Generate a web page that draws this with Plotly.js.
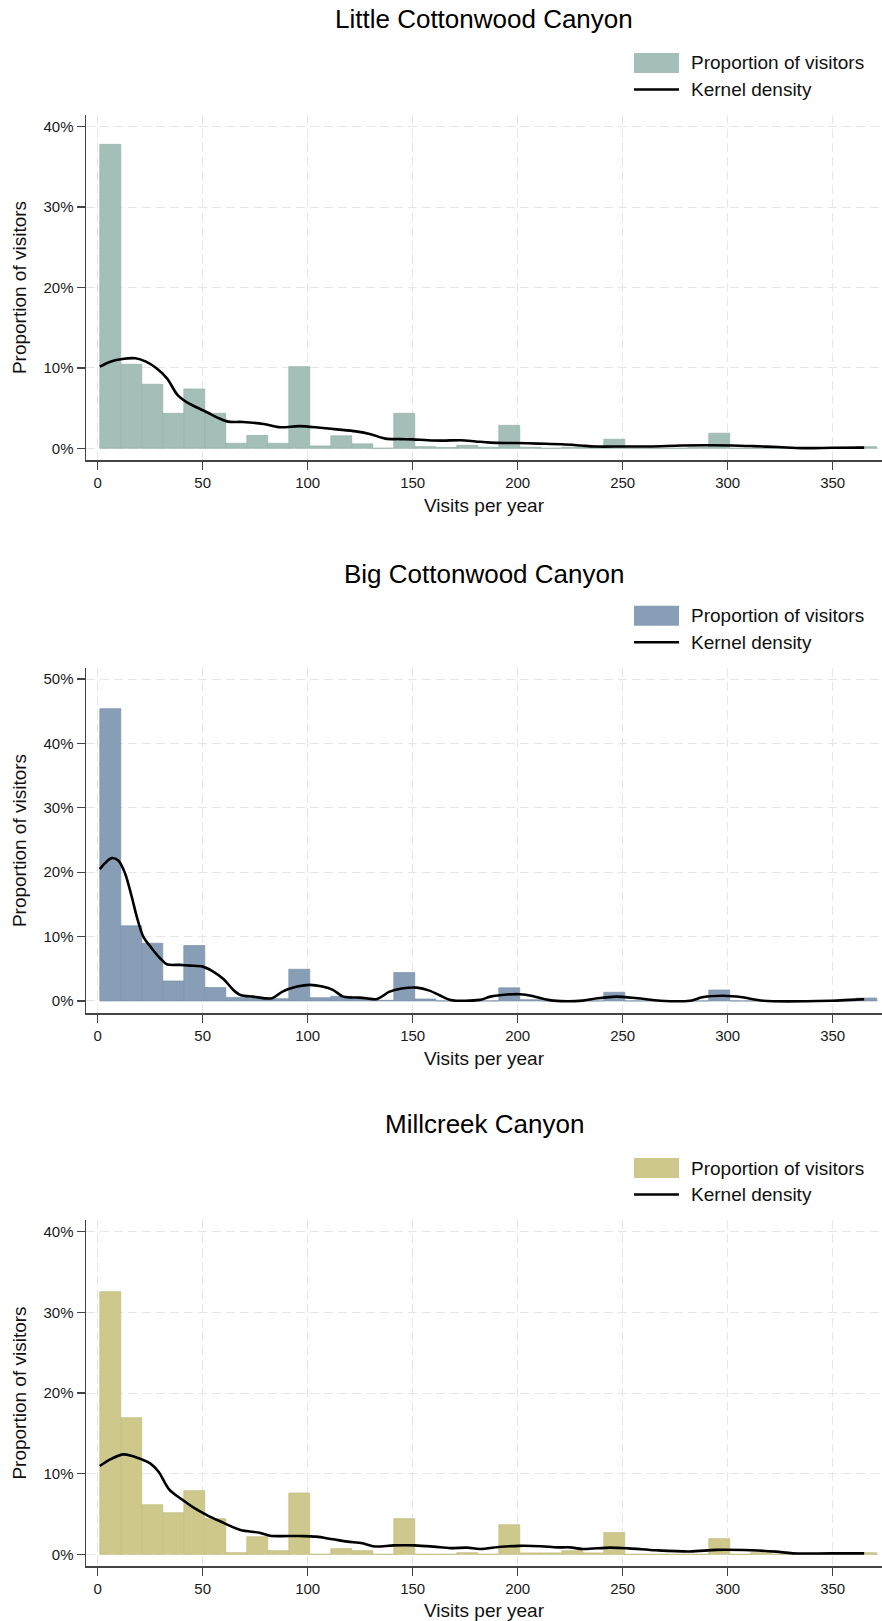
<!DOCTYPE html>
<html>
<head>
<meta charset="utf-8">
<script src="https://cdn.plot.ly/plotly-3.0.1.min.js"></script>
<style>html,body{margin:0;padding:0;background:#fff;}#chart{width:882px;height:1621px;}</style>
</head>
<body>
<div id="chart"></div>
<script>
// ---- Data ----
const titles = ['Little Cottonwood Canyon', 'Big Cottonwood Canyon', 'Millcreek Canyon'];
const legendLabels = ['Proportion of visitors', 'Kernel density'];
const xTitle = 'Visits per year';
const yTitle = 'Proportion of visitors';

// histogram bin centres (bins of 10 visits, 1-11, 11-21, ...)
const binCenters = [6,16,26,36,46,56,66,76,86,96,106,116,126,136,146,156,166,176,186,196,
  206,216,226,236,246,256,266,276,286,296,306,316,326,336,346,356,366];

// proportion of visitors (%) per bin
const lccShare = [37.8,10.45,7.96,4.35,7.37,4.35,0.62,1.6,0.62,10.15,0.29,1.55,0.55,0,4.35,0.2,0.1,0.37,0.12,2.85,
  0.12,0,0.12,0.2,1.12,0,0,0,0.12,1.87,0,0,0,0,0,0,0.2];
const bccShare = [45.4,11.66,8.96,3.1,8.6,2.07,0.55,0.55,0.35,4.92,0.5,0.72,0.35,0.1,4.4,0.3,0,0,0,2.03,
  0.2,0,0,0,1.35,0,0,0,0,1.7,0,0,0,0,0,0,0.45];
const mccShare = [32.56,16.94,6.15,5.16,7.89,4.42,0.2,2.18,0.45,7.6,0,0.7,0.45,0,4.42,0,0,0.2,0,3.67,
  0.17,0.17,0.45,0.17,2.69,0,0,0,0,1.94,0,0.2,0,0,0,0,0.2];

// kernel density curves (scaled to % per bin)
const lccKdeX = [1,6,11,18,23,28,33,38,42,47,52,57,62,69,79,87,96,106,114,123,130,137,144,150,157,164,173,180,187,200,210,221,230,237,250,263,278,292,302,312,324,336,350,365];
const lccKdeY = [10.15,10.77,11.07,11.19,10.77,9.95,8.7,6.63,5.8,5.1,4.48,3.81,3.31,3.27,3.02,2.61,2.75,2.55,2.35,2.1,1.75,1.2,1.14,1.1,1.0,0.95,1.0,0.85,0.7,0.65,0.58,0.5,0.35,0.22,0.22,0.22,0.35,0.37,0.35,0.27,0.15,0.02,0.06,0.08];
const bccKdeX = [1,3.5,6.6,9.8,13,16.2,18.6,21.7,25.7,29.7,32.9,39,44,50,55,60,64.6,68,74,83,88,95,101,107,112,117,125,133,139,145.5,152,158,163,168,182,187,195,201,207,213,217,231,238,247,257,268,282,288,298,307,317,349,358,365];
const bccKdeY = [20.47,21.4,22.18,21.8,19.85,16.2,13.1,10,8.19,6.63,5.7,5.6,5.49,5.33,4.56,3.37,1.71,0.93,0.67,0.41,1.45,2.23,2.49,2.23,1.71,0.67,0.52,0.31,1.45,1.97,2.07,1.6,0.85,0.16,0.16,0.67,1.0,1.05,0.78,0.26,0.05,0.05,0.41,0.67,0.41,0.03,0.03,0.57,0.8,0.57,0.03,0.03,0.16,0.26];
const mccKdeX = [1,6,12,16,21,25,29,34,40,45.5,52,58,68,77,82,96,104,112,119,126,132,141,151,160,168,176,182,192,201,211,219,225,231,244,253,266,282,295,311,323,331,349,365];
const mccKdeY = [10.95,11.77,12.39,12.23,11.77,11.28,10.24,8.06,6.82,5.83,4.87,4.13,3.01,2.68,2.31,2.27,2.19,1.86,1.57,1.36,0.97,1.11,1.11,0.95,0.77,0.83,0.66,0.93,1.05,1.0,0.86,0.86,0.66,0.83,0.74,0.5,0.35,0.55,0.5,0.33,0.12,0.12,0.12];

const xTickVals = [0,50,100,150,200,250,300,350];
const yTickVals = [[0,10,20,30,40],[0,10,20,30,40,50],[0,10,20,30,40]];
const yTickText = [['0%','10%','20%','30%','40%'],['0%','10%','20%','30%','40%','50%'],['0%','10%','20%','30%','40%']];

// ---- Styling / layout ----
const W = 882, H = 1621, L = 86;
const FONT = 'Liberation Sans, Arial, Helvetica, sans-serif';
const barColors = ['#a3bfb7','#889eb6','#cfc88c'];
const barEdge = ['#94b1a8','#7a91aa','#c2bb7e'];
const panelTop = [115, 667.7, 1220];
const panelBottom = [460, 1013.3, 1566];
const yRanges = [[-1.46,41.45],[-1.92,51.76],[-1.45,41.45]];
const xRange = [-5.57, 373.5];
const titleY = [19, 574, 1124];

const shares = [lccShare, bccShare, mccShare];
const kdeX = [lccKdeX, bccKdeX, mccKdeX];
const kdeY = [lccKdeY, bccKdeY, mccKdeY];

const py = p => 1 - p / H;        // pixel row -> paper y
const px = p => (p - L) / (W - L); // pixel col -> paper x

const traces = [];
const layout = {
  width: W, height: H,
  margin: {l: L, r: 0, t: 0, b: 0},
  paper_bgcolor: '#ffffff', plot_bgcolor: '#ffffff',
  font: {family: FONT, color: '#111111'},
  showlegend: false,
  bargap: 0,
  annotations: [], shapes: []
};

for (let i = 0; i < 3; i++) {
  const sfx = i === 0 ? '' : String(i + 1);
  traces.push({
    type: 'bar', x: binCenters, y: shares[i], width: 10,
    xaxis: 'x' + sfx, yaxis: 'y' + sfx, name: legendLabels[0],
    marker: {color: barColors[i], line: {color: barEdge[i], width: 0.7}},
    hoverinfo: 'x+y'
  });
  traces.push({
    type: 'scatter', mode: 'lines', x: kdeX[i], y: kdeY[i],
    xaxis: 'x' + sfx, yaxis: 'y' + sfx, name: legendLabels[1],
    line: {color: '#000000', width: 2.6, shape: 'spline', smoothing: 0.9}
  });

  layout['xaxis' + sfx] = {
    domain: [0, 1], anchor: 'y' + sfx, range: xRange,
    tickmode: 'array', tickvals: xTickVals,
    showline: true, linecolor: '#444444', linewidth: 1.5,
    ticks: 'outside', ticklen: 8, tickwidth: 1.3, tickcolor: '#444444',
    tickfont: {size: 15, color: '#1a1a1a', family: FONT},
    showgrid: true, gridcolor: '#e6e6e6', gridwidth: 1, griddash: '9px,5px',
    zeroline: false,
    title: {text: xTitle, font: {size: 19, color: '#111111', family: FONT}, standoff: 9},
    automargin: false
  };
  layout['yaxis' + sfx] = {
    domain: [py(panelBottom[i]), py(panelTop[i])], anchor: 'x' + sfx, range: yRanges[i],
    tickmode: 'array', tickvals: yTickVals[i], ticktext: yTickText[i],
    showline: true, linecolor: '#444444', linewidth: 1.5,
    ticks: 'outside', ticklen: 8, tickwidth: 1.3, tickcolor: '#444444',
    tickfont: {size: 15, color: '#1a1a1a', family: FONT},
    showgrid: true, gridcolor: '#e6e6e6', gridwidth: 1, griddash: '9px,5px',
    zeroline: false,
    title: {text: yTitle, font: {size: 19, color: '#111111', family: FONT}, standoff: 12},
    automargin: false
  };

  // panel title
  layout.annotations.push({
    text: titles[i], xref: 'paper', yref: 'paper', x: 0.5, y: py(titleY[i]),
    xanchor: 'center', yanchor: 'middle', showarrow: false,
    font: {size: 26, color: '#000000', family: FONT}
  });

  // legend (drawn in paper space above each panel)
  const swY = panelTop[i] - 52, lnY = panelTop[i] - 25.5;
  layout.shapes.push({
    type: 'rect', xref: 'paper', yref: 'paper',
    x0: px(634), x1: px(679), y0: py(swY - 10), y1: py(swY + 10),
    fillcolor: barColors[i], line: {width: 0}
  });
  layout.shapes.push({
    type: 'line', xref: 'paper', yref: 'paper',
    x0: px(634), x1: px(679), y0: py(lnY), y1: py(lnY),
    line: {color: '#000000', width: 2.6}
  });
  layout.annotations.push({
    text: legendLabels[0], xref: 'paper', yref: 'paper', x: px(689), y: py(swY),
    xanchor: 'left', yanchor: 'middle', showarrow: false,
    font: {size: 19, color: '#111111', family: FONT}
  });
  layout.annotations.push({
    text: legendLabels[1], xref: 'paper', yref: 'paper', x: px(689), y: py(lnY),
    xanchor: 'left', yanchor: 'middle', showarrow: false,
    font: {size: 19, color: '#111111', family: FONT}
  });
}

Plotly.newPlot('chart', traces, layout, {displayModeBar: false, staticPlot: true});
</script>
</body>
</html>
